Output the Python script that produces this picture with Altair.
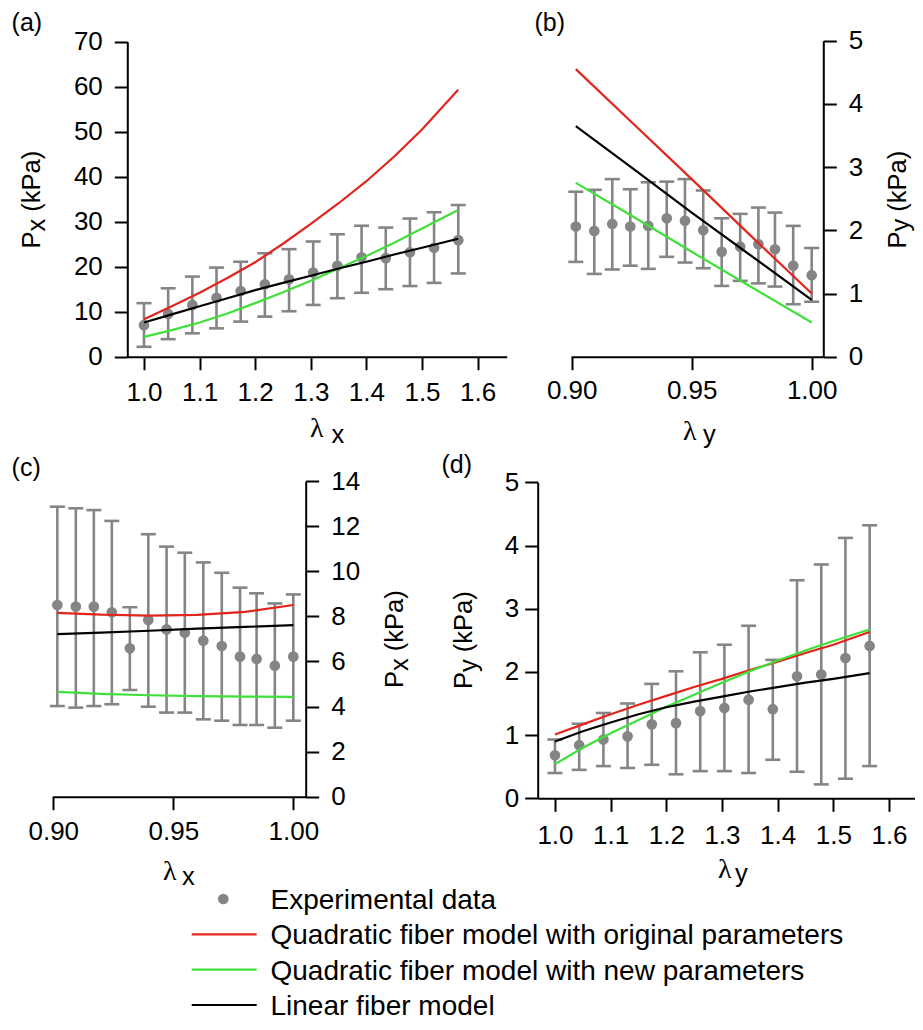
import altair as alt
import pandas as pd

# ---------------- data ----------------
# stretch values of the experimental points
lam_long = [1.000, 1.0435, 1.087, 1.1304, 1.1739, 1.2174, 1.2609, 1.3043,
            1.3478, 1.3913, 1.4348, 1.4783, 1.5217, 1.5652]
lam_short = [0.9017, 0.9094, 0.9169, 0.9244, 0.9319, 0.9396, 0.9472,
             0.9548, 0.9625, 0.9702, 0.9778, 0.9847, 0.9923, 1.0]

# (a) Px vs lambda_x
a_mean = [7.0, 9.5, 11.5, 13.1, 14.6, 16.1, 17.2, 18.7, 20.2, 22.1, 21.9, 23.2, 24.2, 25.9]
a_hi = [11.9, 15.2, 17.8, 19.8, 21.1, 23.0, 23.9, 25.6, 27.2, 29.1, 28.7, 30.7, 32.1, 33.7]
a_lo = [2.2, 3.9, 5.2, 6.3, 7.8, 8.9, 10.1, 11.5, 13.0, 14.2, 15.0, 15.7, 16.4, 18.5]
a_model_x = [1.0, 1.05, 1.1, 1.15, 1.2, 1.25, 1.3, 1.35, 1.4, 1.45, 1.5, 1.565]
a_red = [8.3, 11.2, 14.2, 17.5, 21.0, 25.1, 29.5, 34.1, 39.0, 44.5, 50.5, 59.3]
a_green = [4.4, 5.9, 7.6, 9.6, 11.9, 14.3, 16.9, 19.6, 22.4, 25.3, 28.5, 32.6]
a_black = [7.6, 9.4, 11.2, 13.0, 14.8, 16.4, 18.0, 19.6, 21.1, 22.7, 24.2, 26.2]

# (b) Py vs lambda_y
b_mean = [2.06, 1.99, 2.10, 2.06, 2.07, 2.19, 2.15, 2.00, 1.66, 1.74, 1.78, 1.70, 1.44, 1.29]
b_hi = [2.61, 2.64, 2.81, 2.65, 2.76, 2.77, 2.81, 2.63, 2.19, 2.26, 2.36, 2.28, 2.07, 1.72]
b_lo = [1.50, 1.31, 1.38, 1.44, 1.39, 1.58, 1.49, 1.40, 1.12, 1.20, 1.16, 1.11, 0.83, 0.87]
b_model_x = [0.9017, 0.925, 0.95, 0.975, 1.0]
b_red = [4.55, 3.71, 2.81, 1.90, 1.00]
b_green = [2.75, 2.23, 1.66, 1.10, 0.54]
b_black = [3.65, 2.99, 2.28, 1.59, 0.90]

# (c) Px vs lambda_x
c_mean = [8.50, 8.43, 8.43, 8.18, 6.58, 7.84, 7.42, 7.27, 6.92, 6.68, 6.21, 6.11, 5.81, 6.21]
c_hi = [12.86, 12.79, 12.71, 12.23, 8.40, 11.64, 11.09, 10.82, 10.39, 9.93, 9.27, 9.02, 8.57, 8.97]
c_lo = [4.02, 3.95, 4.02, 4.10, 4.73, 3.99, 3.73, 3.73, 3.43, 3.37, 3.18, 3.18, 3.06, 3.37]
c_model_x = [0.9017, 0.92, 0.94, 0.96, 0.98, 1.0]
c_red = [8.15, 8.07, 8.03, 8.06, 8.20, 8.50]
c_green = [4.65, 4.56, 4.50, 4.46, 4.44, 4.43]
c_black = [7.21, 7.28, 7.36, 7.45, 7.53, 7.61]

# (d) Py vs lambda_y
d_mean = [0.68, 0.84, 0.93, 0.98, 1.17, 1.19, 1.38, 1.43, 1.56, 1.41, 1.93, 1.96, 2.22, 2.41]
d_hi = [0.93, 1.18, 1.35, 1.50, 1.81, 2.01, 2.31, 2.43, 2.73, 2.19, 3.45, 3.70, 4.12, 4.32]
d_lo = [0.40, 0.45, 0.51, 0.48, 0.53, 0.38, 0.43, 0.43, 0.40, 0.61, 0.42, 0.22, 0.31, 0.51]
d_model_x = [1.0, 1.05, 1.1, 1.15, 1.2, 1.25, 1.3, 1.35, 1.4, 1.45, 1.5, 1.565]
d_red = [1.01, 1.17, 1.33, 1.48, 1.62, 1.76, 1.89, 2.03, 2.16, 2.30, 2.43, 2.63]
d_green = [0.54, 0.80, 1.03, 1.24, 1.45, 1.64, 1.83, 2.01, 2.18, 2.34, 2.49, 2.67]
d_black = [0.90, 1.06, 1.20, 1.33, 1.44, 1.53, 1.61, 1.69, 1.76, 1.83, 1.89, 1.98]

ticks_long = [1.0, 1.1, 1.2, 1.3, 1.4, 1.5, 1.6]
ticks_short = [0.90, 0.95, 1.00]

legend_labels = ["Experimental data",
                 "Quadratic fiber model with original parameters",
                 "Quadratic fiber model with new parameters",
                 "Linear fiber model"]

# ---------------- styling ----------------
W, H = 907, 1014
GRAY = "#858585"
RED = "#e3241c"
GREEN = "#3fe03a"
BLACK = "#000000"
SANS = "Liberation Sans"
SERIF = "Liberation Serif"


def panel(lam, mean, lo, hi, mx, red, green, black,
          xdom, xrng, ydom, yrng, xaxis, yaxis):
    pts = pd.DataFrame({"lam": lam, "mean": mean, "lo": lo, "hi": hi})
    xs = alt.Scale(domain=xdom, range=xrng, nice=False, zero=False)
    ys = alt.Scale(domain=ydom, range=yrng, nice=False, zero=False)
    X = alt.X("lam:Q", scale=xs, axis=xaxis)

    def Y(f):
        return alt.Y(f"{f}:Q", scale=ys, axis=yaxis)

    base = alt.Chart(pts)
    bars = base.mark_rule(color=GRAY, strokeWidth=2.6).encode(x=X, y=Y("lo"), y2="hi:Q")
    cap_hi = base.mark_tick(orient="horizontal", size=15, thickness=2.6,
                            color=GRAY, opacity=1).encode(x=X, y=Y("hi"))
    cap_lo = base.mark_tick(orient="horizontal", size=15, thickness=2.6,
                            color=GRAY, opacity=1).encode(x=X, y=Y("lo"))
    dots = base.mark_circle(size=115, color=GRAY, opacity=1).encode(x=X, y=Y("mean"))
    layers = [bars, cap_hi, cap_lo, dots]
    for vals, col in ((red, RED), (green, GREEN), (black, BLACK)):
        df = pd.DataFrame({"lam": mx, "val": vals})
        layers.append(alt.Chart(df).mark_line(color=col, strokeWidth=2.2)
                      .encode(x=X, y=Y("val")))
    return alt.layer(*layers)


def xaxis(y_canvas, values, fmt, pad):
    return alt.Axis(orient="bottom", offset=y_canvas - H, values=values,
                    format=fmt, title="", labelPadding=pad)


def yaxis(orient, x_canvas, values, pad):
    off = -x_canvas if orient == "left" else x_canvas - W
    return alt.Axis(orient=orient, offset=off, values=values,
                    title="", labelPadding=pad)


# panel (a)
pa = panel(lam_long, a_mean, a_lo, a_hi, a_model_x, a_red, a_green, a_black,
           [0.97, 1.6523], [119.3, 498.7], [0, 70], [348.7, 33.7],
           xaxis(348.7, ticks_long, ".1f", 10),
           yaxis("left", 119.3, [0, 10, 20, 30, 40, 50, 60, 70], 12))
# panel (b)
pb = panel(lam_short, b_mean, b_lo, b_hi, b_model_x, b_red, b_green, b_black,
           [0.8997, 1.0048], [563.0, 815.2], [0, 5], [348.7, 32.7],
           xaxis(348.7, ticks_short, ".2f", 8),
           yaxis("right", 815.3, [0, 1, 2, 3, 4, 5], 12))
# panel (c)
pc = panel(lam_short, c_mean, c_lo, c_hi, c_model_x, c_red, c_green, c_black,
           [0.8996, 1.0052], [44.3, 297.8], [0, 14], [788.7, 473.0],
           xaxis(788.7, ticks_short, ".2f", 9),
           yaxis("right", 297.7, [0, 2, 4, 6, 8, 10, 12, 14], 12))
# panel (d)
pd_ = panel(lam_long, d_mean, d_lo, d_hi, d_model_x, d_red, d_green, d_black,
            [0.969, 1.6526], [529.7, 910.3], [0, 5], [790.3, 474.3],
            xaxis(790.3, ticks_long, ".1f", 11),
            yaxis("left", 529.7, [0, 1, 2, 3, 4, 5], 6))


def txt(s, x, y, size, font=SANS, angle=0):
    return (alt.Chart(pd.DataFrame({"t": [s]}))
            .mark_text(align="left", baseline="alphabetic", font=font,
                       fontSize=size, color="black", angle=angle)
            .encode(text="t:N", x=alt.value(x), y=alt.value(y)))


TF = 25.5  # axis-title font size
P_W, SUB_W, SP_W = 0.667 * TF, 0.5 * TF, 0.278 * TF


def ytitle(sub, x_base, y_bottom, sub_drop=5):
    return [
        txt("P", x_base, y_bottom, TF, angle=270),
        txt(sub, x_base + sub_drop, y_bottom - P_W, TF, angle=270),
        txt("(kPa)", x_base, y_bottom - P_W - SUB_W - SP_W, TF, angle=270),
    ]


titles = []
titles += ytitle("x", 32, 240.5)          # (a)
titles += ytitle("y", 898, 240.5, 3)      # (b)
titles += ytitle("x", 395.3, 680)         # (c)
titles += ytitle("y", 463.5, 681)         # (d)
titles += [
    txt("λ", 302, 429, 28, SERIF), txt("x", 323.5, 435, TF),
    txt("λ", 675, 432, 28, SERIF), txt("y", 695, 435, TF),
    txt("λ", 155, 872, 28, SERIF), txt("x", 174, 877, TF),
    txt("λ", 710, 870, 28, SERIF), txt("y", 727, 874, TF),
    txt("(a)", 3.6, 22.5, 25), txt("(b)", 526.5, 22.5, 25),
    txt("(c)", 3.6, 467.5, 25), txt("(d)", 433.5, 464.5, 25),
]

# legend
leg_df = pd.DataFrame({"row": [0, 1, 2, 3], "label": legend_labels})
ly = alt.Y("row:Q", scale=alt.Scale(domain=[0, 3], range=[893, 999], nice=False, zero=False),
           axis=None)
leg_text = (alt.Chart(leg_df)
            .mark_text(align="left", baseline="middle", font=SANS, fontSize=28, color="black")
            .encode(x=alt.value(262.5), y=ly, text="label:N"))
leg_dot = (alt.Chart(leg_df.iloc[:1])
           .mark_circle(size=115, color=GRAY, opacity=1, yOffset=-2)
           .encode(x=alt.value(215.3), y=ly))
leg_lines = (alt.Chart(leg_df.iloc[1:])
             .mark_rule(strokeWidth=2.2, yOffset=-2)
             .encode(x=alt.value(183.7), x2=alt.value(248.7), y=ly,
                     color=alt.Color("label:N",
                                     scale=alt.Scale(domain=legend_labels[1:],
                                                     range=[RED, GREEN, BLACK]),
                                     legend=None)))
legend = alt.layer(leg_text, leg_dot, leg_lines)

chart = (alt.layer(pa, pb, pc, pd_, legend, *titles)
         .resolve_scale(x="independent", y="independent")
         .resolve_axis(x="independent", y="independent")
         .properties(width=W, height=H, padding=0,
                     autosize=alt.AutoSizeParams(type="none"))
         .configure_view(strokeWidth=0)
         .configure_axis(domainColor="black", domainWidth=2, tickColor="black",
                         tickWidth=2, tickSize=13, labelFont=SANS, labelFontSize=26,
                         labelColor="black", grid=False, labelFlush=False,
                         labelOverlap=False))

chart.save("out.html", embed_options={"renderer": "svg", "actions": False})
